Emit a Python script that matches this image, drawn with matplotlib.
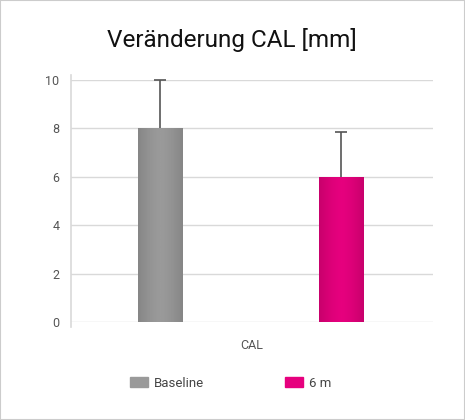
import matplotlib
matplotlib.use("Agg")
import matplotlib.pyplot as plt
import numpy as np
from matplotlib.patches import Rectangle
from matplotlib.lines import Line2D
from matplotlib.colors import LinearSegmentedColormap

plt.rcParams['font.family'] = ['Roboto', 'DejaVu Sans']

categories = ["CAL"]
series = ["Baseline", "6 m"]
values = [8.0, 6.0]
errors = [2.0, 1.86]
colors = ["#9a9a9a", "#e6007e"]
edge_shades = ["#868686", "#c8006c"]
yticks = [0, 2, 4, 6, 8, 10]

fig = plt.figure(figsize=(4.65, 4.2), dpi=100)
fig.patches.append(Rectangle((0, 0), 1, 1, transform=fig.transFigure, fill=False,
                             edgecolor="#cccccc", linewidth=1.5))
ax = fig.add_axes([0.152, 0.2333, 0.7785, 0.5762])
offsets = [-0.252, 0.248]
grad = np.abs(np.linspace(-1, 1, 64))[None, :] ** 1.5
for v, e, c, sh, o in zip(values, errors, colors, edge_shades, offsets):
    bars = ax.bar(o, v, width=0.124, color=c, zorder=3)
    p = bars[0]
    cmap = LinearSegmentedColormap.from_list("g", [c, sh])
    im = ax.imshow(grad, cmap=cmap, aspect='auto', zorder=3.1,
                   extent=[p.get_x(), p.get_x() + p.get_width(), 0, v])
    im.set_clip_path(p)
    ax.vlines(o, v, v + e, color="#555555", linewidth=1.2, zorder=4)
    ax.plot([o], [v + e], marker='_', markersize=8, markeredgewidth=1.2,
            color="#555555", zorder=4, clip_on=False)
ax.set_xlim(-0.5, 0.5)
ax.set_ylim(0, 10)
ax.set_yticks(yticks)
ax.set_yticklabels([str(t) for t in yticks])
ax.set_xticks([0])
ax.set_xticklabels(categories)
ax.tick_params(axis='both', length=0, labelsize=9, colors="#555555")
ax.tick_params(axis='y', pad=8)
ax.tick_params(axis='x', pad=12)
for s in ax.spines.values():
    s.set_visible(False)
ax.grid(axis='y', color="#d9d9d9", linewidth=1, zorder=0)
ax.add_line(Line2D([-0.5, -0.5], [-0.2, 10.2], color="#d9d9d9", linewidth=1.2,
                   clip_on=False, zorder=1))
fig.text(0.498, 0.905, "Veränderung CAL [mm]", fontsize=17.5, color="#111111",
         ha='center', va='center')

handles = [Rectangle((0, 0), 1, 1, color=c) for c in colors]
fig.legend(handles, series, loc='center', bbox_to_anchor=(0.496, 0.088), ncol=2,
           frameon=False, fontsize=9.5, handlelength=1.3, handleheight=0.9,
           columnspacing=6.2, handletextpad=0.45, labelcolor="#444444")
fig.savefig("out.png", dpi=100)
